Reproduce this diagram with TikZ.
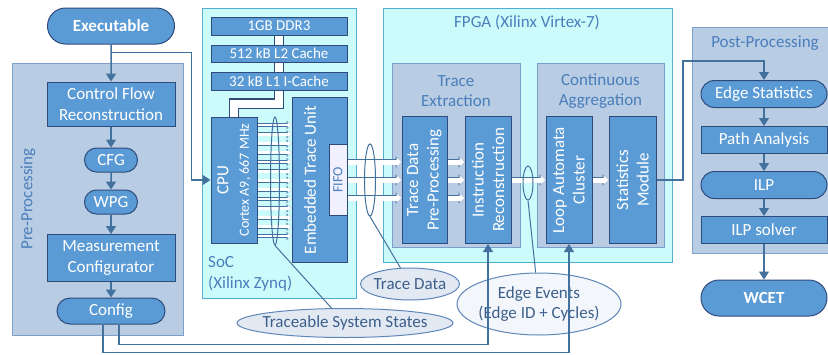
\documentclass[tikz,border=0pt]{standalone}
\usepackage{fontspec}
\setmainfont{Carlito}
\usepackage{tikz}
\usetikzlibrary{arrows.meta,shapes.geometric,shapes.misc,positioning}
\definecolor{blkfill}{HTML}{5B9BD5}
\definecolor{blkdraw}{HTML}{2F4B7C}
\definecolor{wire}{HTML}{41719C}
\definecolor{grpfill}{HTML}{B8CCE4}
\definecolor{grpdraw}{HTML}{7F9FCB}
\definecolor{chipfill}{HTML}{CCFBFC}
\definecolor{chipdraw}{HTML}{55ADD3}
\definecolor{lblc}{HTML}{4A7EBB}
\definecolor{callfill}{HTML}{E2E9F3}
\definecolor{calldraw}{HTML}{5F86B8}
\definecolor{calltext}{HTML}{3D5F8C}
\newcommand{\mtxt}{\fontsize{17}{20.5}\selectfont}
\newcommand{\memtxt}{\fontsize{15}{18}\selectfont}
\newcommand{\smtxt}{\fontsize{14}{17}\selectfont}
\pgfdeclarelayer{bg}
\pgfdeclarelayer{mid}
\pgfsetlayers{bg,mid,main}
\tikzset{
  blk/.style={rectangle, draw=blkdraw, fill=blkfill, line width=1pt, text=white, inner sep=0pt, align=center, font=\mtxt},
  pill/.style={blk, rounded rectangle},
  grp/.style={rectangle, draw=grpdraw, fill=grpfill, line width=1pt, inner sep=0pt},
  chip/.style={rectangle, draw=chipdraw, fill=chipfill, line width=1pt, inner sep=0pt},
  fifobox/.style={rectangle, draw=blkdraw, fill=white!94!blue, line width=1pt, inner sep=0pt},
  lbl/.style={text=lblc, font=\mtxt, align=center, inner sep=0pt},
  vtxt/.style={rotate=90, text=white, font=\mtxt, align=center, inner sep=0pt},
  arr/.style={draw=wire, line width=1.5pt, -{Triangle[length=8pt,width=10pt]}},
  wireline/.style={draw=wire, line width=1pt},
  bundle/.style={ellipse, draw=wire, line width=1pt, inner sep=0pt},
  callout/.style={ellipse, draw=calldraw, fill=callfill, line width=1pt, inner sep=0pt},
  calltxt/.style={text=calltext, font=\mtxt, align=center, inner sep=0pt},
  thinbus/.style={draw=white, line width=2.6pt, -{Triangle[length=4pt,width=6pt]},
    preaction={draw=wire, line width=4pt, -{Triangle[length=5pt,width=8pt]}}},
  fatbus/.style={draw=white, line width=5pt, -{Triangle[length=5pt,width=9pt]},
    preaction={draw=wire, line width=6.6pt, -{Triangle[length=6pt,width=11pt]}}},
  mem/.style={draw=white, line width=8pt, preaction={draw=blkdraw, line width=10.5pt}}
}

\begin{document}
\begin{tikzpicture}[x=1pt,y=-1pt]
\useasboundingbox (0,0) rectangle (828,354);

% group frames
\begin{pgfonlayer}{bg}
\node[grp, minimum width=171, minimum height=272] (pre) at (97.5,199) {};
\node[chip, minimum width=154, minimum height=290] (soc) at (279,153) {};
\node[chip, minimum width=289, minimum height=254] (fpga) at (527.5,135) {};
\node[grp, minimum width=128, minimum height=184] (te) at (456,155) {};
\node[grp, minimum width=127, minimum height=184] (ca) at (600.5,155) {};
\node[grp, minimum width=138, minimum height=226] (post) at (761,140) {};
\end{pgfonlayer}
\node[lbl, rotate=90] (prelbl) at (28,199) {Pre-Processing};
\node[lbl, anchor=west, align=left] (soclbl) at (208,274) {SoC\\(Xilinx Zynq)};
\node[lbl] (fpgalbl) at (527,22) {FPGA (Xilinx Virtex-7)};
\node[lbl] (telbl) at (456,91) {Trace\\Extraction};
\node[lbl] (calbl) at (600.5,91) {Continuous\\Aggregation};
\node[lbl] (postlbl) at (765,43) {Post-Processing};

% pre-processing
\node[pill, font=\bfseries\mtxt, minimum width=127, minimum height=36] (exe) at (111,26) {Executable};
\node[blk, minimum width=128, minimum height=44] (cfr) at (111,104) {Control Flow\\Reconstruction};
\node[pill, minimum width=53, minimum height=24] (cfg) at (111,160) {CFG};
\node[pill, minimum width=53, minimum height=24] (wpg) at (111,202) {WPG};
\node[blk, minimum width=128, minimum height=47] (mc) at (111,258) {Measurement\\Configurator};
\node[pill, minimum width=108, minimum height=26] (conf) at (111,311) {Config};

% SoC
\node[blk, font=\memtxt, minimum width=136, minimum height=18] (ddr) at (279,26) {1GB DDR3};
\node[blk, font=\memtxt, minimum width=136, minimum height=17] (l2) at (279,53.5) {512 kB L2 Cache};
\node[blk, font=\memtxt, minimum width=136, minimum height=18] (l1) at (279,81) {32 kB L1 I-Cache};
\node[blk, minimum width=46, minimum height=126] (cpu) at (234,180) {};
\node[vtxt] (cputxt) at (223,180) {CPU};
\node[vtxt, font=\smtxt] (cortex) at (245,180) {Cortex A9, 667 MHz};
\node[blk, minimum width=55, minimum height=165] (etu) at (319.5,180) {};
\node[vtxt] (etutxt) at (310,180) {Embedded Trace Unit};
\node[fifobox, minimum width=18, minimum height=71] (fifo) at (338,180) {};
\node[vtxt, text=lblc, font=\smtxt] (fifotxt) at (fifo) {FIFO};

% FPGA
\node[blk, minimum width=45, minimum height=127] (tdpp) at (424.5,180) {};
\node[vtxt] (tdpptxt) at (tdpp) {Trace Data\\Pre-Processing};
\node[blk, minimum width=46, minimum height=127] (ir) at (488,180) {};
\node[vtxt] (irtxt) at (ir) {Instruction\\Reconstruction};
\node[blk, minimum width=46, minimum height=127] (lac) at (569,180) {};
\node[vtxt] (lactxt) at (lac) {Loop Automata\\Cluster};
\node[blk, minimum width=47, minimum height=127] (sm) at (632.5,180) {};
\node[vtxt] (smtxt) at (sm) {Statistics\\Module};

% post-processing
\node[pill, minimum width=126, minimum height=27] (es) at (764,94) {Edge Statistics};
\node[blk, minimum width=126, minimum height=27] (pa) at (764,140) {Path Analysis};
\node[pill, minimum width=126, minimum height=27] (ilp) at (764,185) {ILP};
\node[blk, minimum width=126, minimum height=27] (ilps) at (764,230) {ILP solver};
\node[pill, font=\bfseries\mtxt, minimum width=126, minimum height=36] (wcet) at (764,298) {WCET};

% memory path
\begin{pgfonlayer}{mid}
\draw[mem] (ddr) -- (l2);
\draw[mem] (l2) -- (l1);
\draw[mem] (l1.south) -- ++(0,13) -| (cpu.north);
\end{pgfonlayer}

% trace buses
\foreach \i in {0,...,12}
  \draw[thinbus] ([yshift={55pt-\i*9.25pt}]cpu.east) -- ([yshift={55pt-\i*9.25pt}]etu.west);
\foreach \d in {18,0,-18} {
  \draw[fatbus] ([yshift=\d pt]fifo.east) -- ([yshift=\d pt]tdpp.west);
  \draw[fatbus] ([yshift=\d pt]tdpp.east) -- ([yshift=\d pt]ir.west);
}
\draw[fatbus] (ir) -- (lac);
\draw[fatbus] (lac) -- (sm);

% bundles and callouts
\node[bundle, minimum width=9, minimum height=128] (b1) at (275,181) {};
\node[bundle, minimum width=11, minimum height=72] (b2) at (370,180) {};
\node[bundle, minimum width=10, minimum height=34] (b3) at (528,183) {};
\node[callout, minimum width=216, minimum height=29] (tss) at (345,323) {};
\node[calltxt] (tsstxt) at (tss) {Traceable System States};
\node[callout, minimum width=99, minimum height=32] (td) at (410,284) {};
\node[calltxt] (tdtxt) at (td) {Trace Data};
\node[callout, fill=callfill!40, minimum width=164, minimum height=62] (ee) at (539,304) {};
\node[calltxt] (eetxt) at (ee) {Edge Events\\(Edge ID + Cycles)};
\draw[wireline] (b1.south) -- (tss);
\draw[wireline] (b2.south) -- (td);
\draw[wireline] (b3.south) -- (ee);

% flow
\foreach \a/\b in {exe/cfr,cfr/cfg,cfg/wpg,wpg/mc,mc/conf,es/pa,pa/ilp,ilp/ilps,ilps/wcet}
  \draw[arr] (\a) -- (\b);
\draw[arr] ([yshift=-8pt]exe.south) -| ([xshift=-19pt]cpu.west) -- (cpu.west);
\draw[arr] (sm.east) -| ([xshift=-81pt,yshift=19pt]es.north) -| (es.north);
\draw[arr] ([xshift=-8pt]conf.south) -- ++(0,28) -| (lac.south);
\draw[arr] ([xshift=8pt]conf.south) -- ++(0,20) -| (ir.south);
\end{tikzpicture}
\end{document}
